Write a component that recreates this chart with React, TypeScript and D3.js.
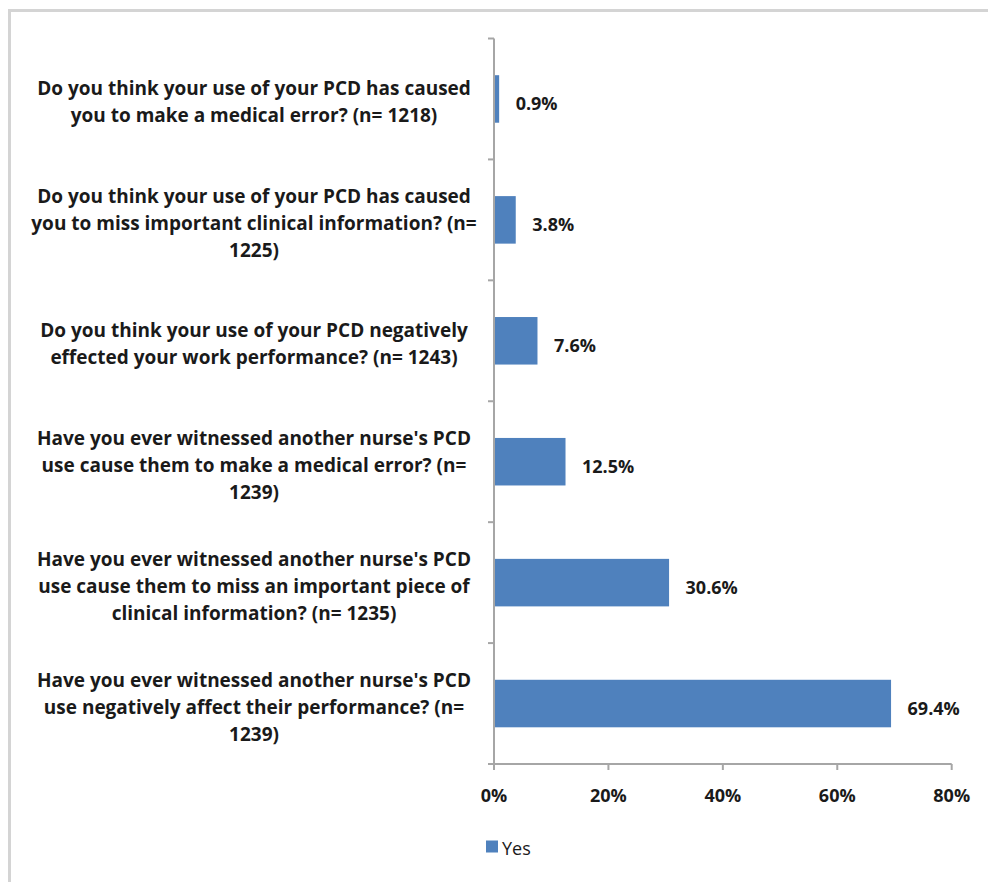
import React from "react";
import * as d3 from "d3";

const categories: string[][] = [
  ["Do you think your use of your PCD has caused", "you to make a medical error? (n= 1218)"],
  ["Do you think your use of your PCD has caused", "you to miss important clinical information? (n=", "1225)"],
  ["Do you think your use of your PCD negatively", "effected your work performance? (n= 1243)"],
  ["Have you ever witnessed another nurse's PCD", "use cause them to make a medical error? (n=", "1239)"],
  ["Have you ever witnessed another nurse's PCD", "use cause them to miss an important piece of", "clinical information? (n= 1235)"],
  ["Have you ever witnessed another nurse's PCD", "use negatively affect their performance? (n=", "1239)"],
];
const yesValues: number[] = [0.9, 3.8, 7.6, 12.5, 30.6, 69.4];
const xTicks: number[] = [0, 20, 40, 60, 80];
const seriesName = "Yes";

const W = 988;
const H = 882;
const FONT = "'Open Sans', Lato, sans-serif";
const FS = 19;
const BAR = "#4f81bd";
const AXIS = "#a6a6a6";

export default function App() {
  const x = d3.scaleLinear().domain([0, 80]).range([494, 951.7]);
  const idx = categories.map((_, i) => i);
  const band = d3.scaleBand<number>().domain(idx).range([38.5, 764]).paddingInner(0.607).paddingOuter(0.3035);
  const full = d3.scaleBand<number>().domain(idx).range([38.5, 764]);
  const labelX = 254;
  const lineH = 27;

  return (
    <>
      <style>{"body{margin:0}"}</style>
      <svg width={W} height={H} style={{ display: "block", background: "#fff" }}>
        {/* frame */}
        <path d={`M9.5,${H + 5}V10.5H${W + 5}`} fill="none" stroke="#d4d4d4" strokeWidth={3} />
        {/* bars */}
        {yesValues.map((v, i) => (
          <rect key={i} x={x(0)} y={band(i)!} width={x(v) - x(0)} height={band.bandwidth()} fill={BAR} />
        ))}
        {/* y axis */}
        <line x1={x(0)} x2={x(0)} y1={38.5} y2={764} stroke={AXIS} strokeWidth={2} />
        {d3.range(categories.length + 1).map((i) => {
          const yy = 38.5 + full.step() * i;
          return <line key={i} x1={x(0) - 6} x2={x(0)} y1={yy} y2={yy} stroke={AXIS} strokeWidth={2} />;
        })}
        {/* x axis */}
        <line x1={x(0) - 6} x2={x(80)} y1={764} y2={764} stroke={AXIS} strokeWidth={2} />
        {xTicks.map((t) => (
          <g key={t}>
            <line x1={x(t)} x2={x(t)} y1={764} y2={770} stroke={AXIS} strokeWidth={2} />
            <text x={x(t)} y={802} textAnchor="middle" fontFamily={FONT} fontWeight="bold" fontSize={18} fill="#1a1a1a">
              {t}%
            </text>
          </g>
        ))}
        {/* value labels */}
        {yesValues.map((v, i) => (
          <text key={i} x={x(v) + 16.5} y={full(i)! + full.bandwidth() / 2 + 11} fontFamily={FONT} fontWeight="bold" fontSize={18} fill="#1a1a1a">
            {v.toFixed(1)}%
          </text>
        ))}
        {/* category labels */}
        {categories.map((lines, i) => {
          const c = full(i)! + full.bandwidth() / 2;
          return (
            <text key={i} textAnchor="middle" fontFamily={FONT} fontWeight="bold" fontSize={FS} fill="#1a1a1a">
              {lines.map((ln, j) => (
                <tspan key={j} x={labelX} y={c + 10 + (j - (lines.length - 1) / 2) * lineH}>
                  {ln}
                </tspan>
              ))}
            </text>
          );
        })}
        {/* legend */}
        <rect x={486} y={840.5} width={12} height={12} fill={BAR} />
        <text x={502} y={855} fontFamily={FONT} fontSize={18} fill="#1a1a1a">
          {seriesName}
        </text>
      </svg>
    </>
  );
}
